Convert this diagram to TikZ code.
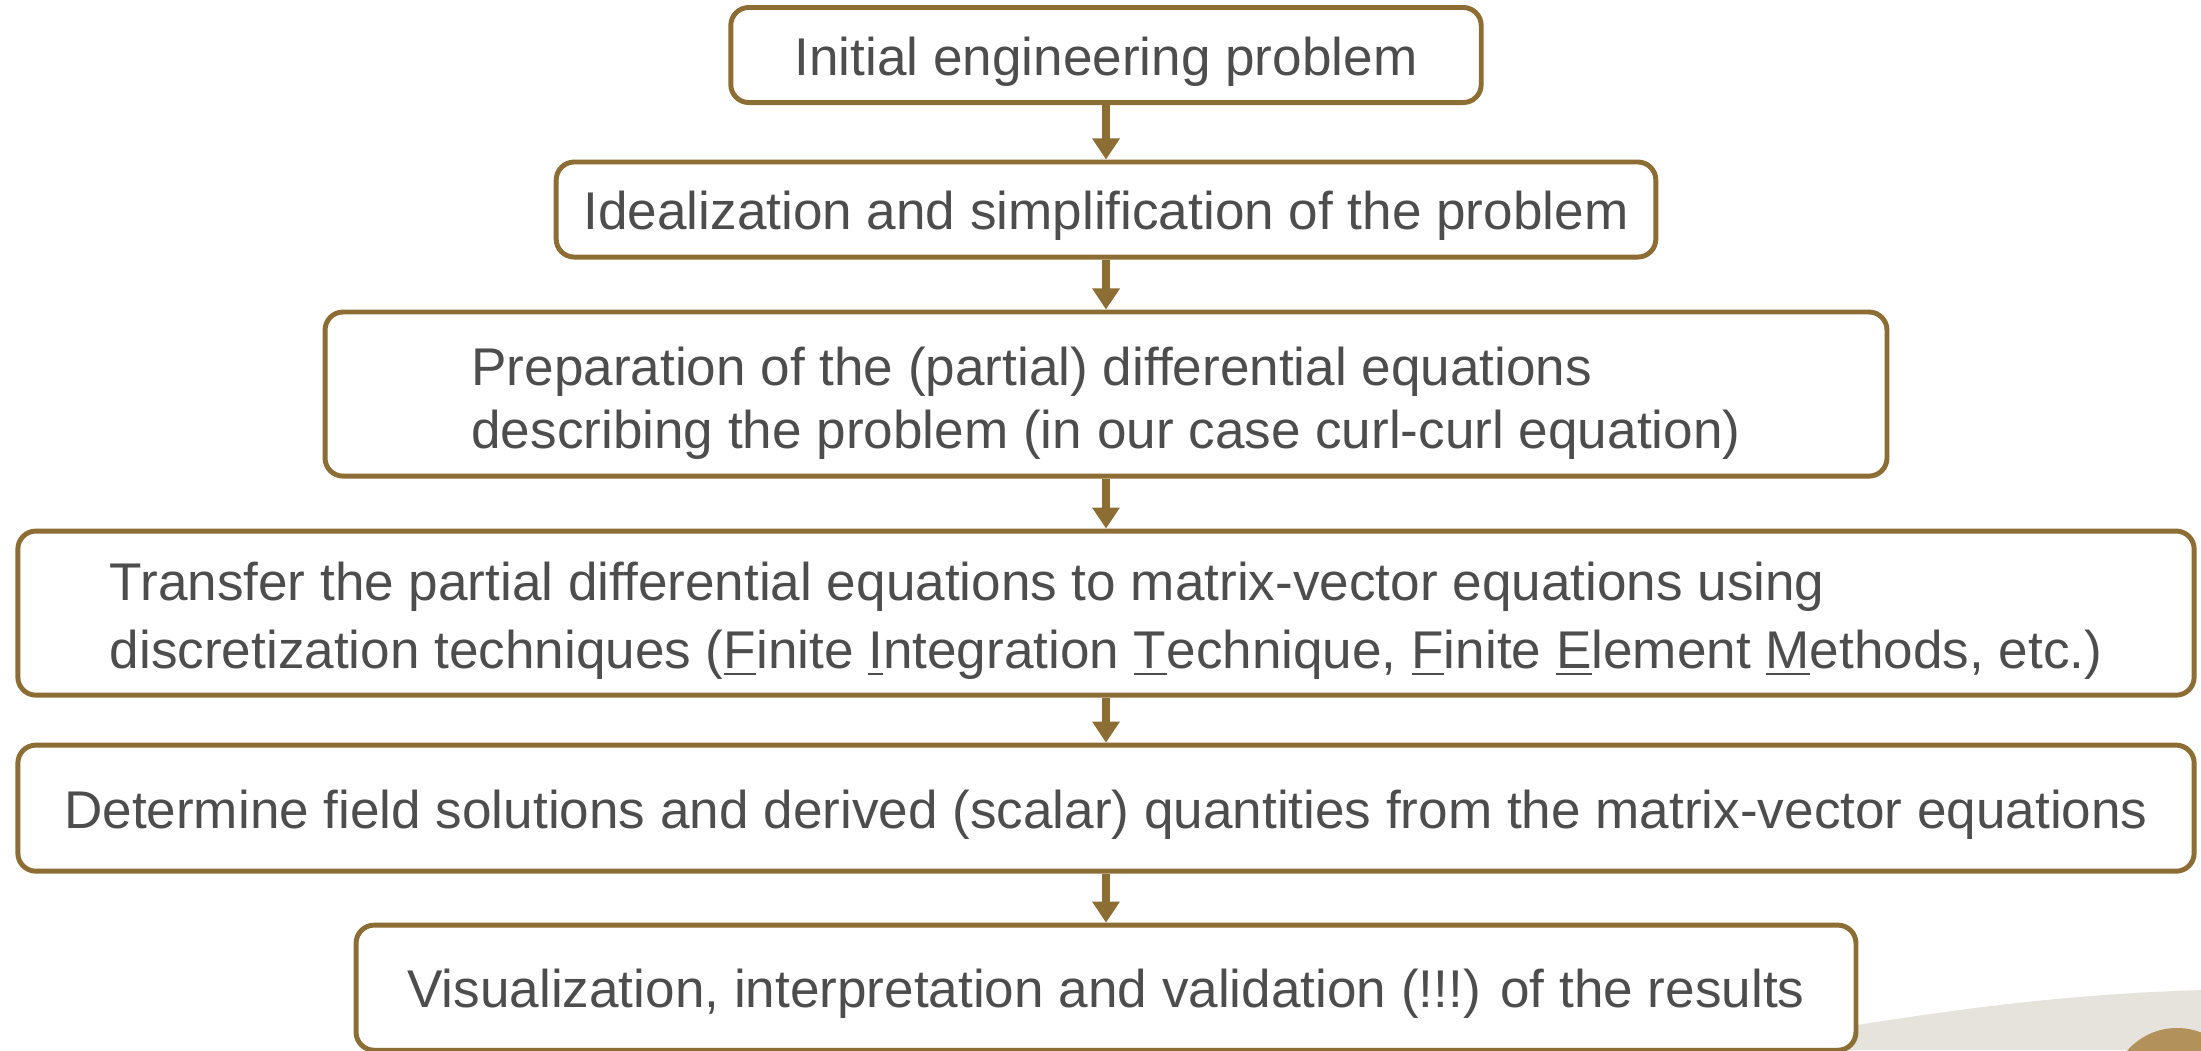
\documentclass[tikz,border=0pt]{standalone}
\usepackage{fontspec}
\setmainfont{Liberation Sans}
\usetikzlibrary{positioning, arrows.meta}

\definecolor{boxbrown}{RGB}{140,109,52}
\definecolor{textgrey}{RGB}{77,77,77}
\definecolor{swooshgrey}{RGB}{230,227,221}
\definecolor{dotbrown}{RGB}{178,145,90}

\newcommand{\topstrut}[1]{\rule{0pt}{#1}}

\begin{document}
\begin{tikzpicture}[
    x=0.01cm, y=-0.01cm,
    stepbox/.style={draw=boxbrown, fill=white, line width=1.4pt, rounded corners=0.18cm, align=left, text=textgrey, font=\fontsize{15.1}{18.8}\selectfont, inner sep=0pt},
    flow/.style={-{Triangle[width=7.5pt, length=6pt]}, line width=2.2pt, draw=boxbrown}
]
\useasboundingbox (0,0) rectangle (2201,1050);

% Background
\fill[swooshgrey] (1700,1050) .. controls (1880,1022) and (2010,996) .. (2201,990) -- (2201,1050) -- cycle;
\fill[dotbrown] (2177,1094) circle[radius=0.66cm];

% Nodes
\node[stepbox, minimum width=7.5cm, minimum height=0.95cm] (initial) at (1106,55) {\topstrut{14.6pt}Initial engineering problem};
\node[stepbox, minimum width=10.99cm, minimum height=0.95cm, below=0.545cm of initial] (ideal) {\topstrut{14.6pt}Idealization and simplification of the problem};
\node[stepbox, minimum width=15.61cm, minimum height=1.64cm, below=0.5cm of ideal] (pde) {\topstrut{16pt}Preparation of the (partial) differential equations\\[-0.8pt]describing the problem (in our case curl-curl equation)};
\node[stepbox, minimum width=21.75cm, minimum height=1.64cm, below=0.5cm of pde] (discrete) {\topstrut{15.5pt}Transfer the partial differential equations to matrix-vector equations using\\[0.6pt]discretization techniques (\underline{F}inite \underline{I}ntegration \underline{T}echnique, \underline{F}inite \underline{E}lement \underline{M}ethods, etc.)};
\node[stepbox, minimum width=21.75cm, minimum height=1.26cm, below=0.45cm of discrete] (solve) {\topstrut{14.6pt}Determine field solutions and derived (scalar) quantities from the matrix-vector equations};
\node[stepbox, minimum width=14.99cm, minimum height=1.25cm, below=0.49cm of solve] (results) {\topstrut{14.6pt}Visualization, interpretation and validation (!!!) of the results};

% Arrows
\draw[flow] (initial) -- (ideal);
\draw[flow] (ideal) -- (pde);
\draw[flow] (pde) -- (discrete);
\draw[flow] (discrete) -- (solve);
\draw[flow] (solve) -- (results);

\end{tikzpicture}
\end{document}
